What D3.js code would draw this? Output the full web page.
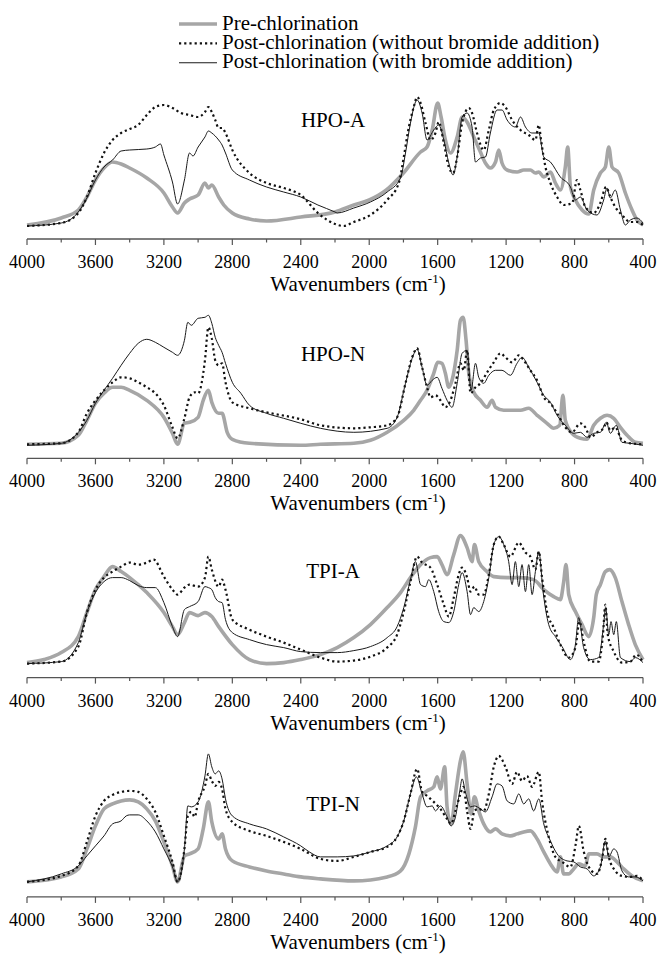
<!DOCTYPE html>
<html>
<head>
<meta charset="utf-8">
<script src="https://cdn.jsdelivr.net/npm/d3@7"></script>
<style>
  body { margin: 0; background: #fff; }
  svg { display: block; font-family: "Liberation Serif", "Times New Roman", serif; }
</style>
</head>
<body>
<div id="chart"></div>
<script>
// tick labels and series names
var tickValues = [4000, 3600, 3200, 2800, 2400, 2000, 1600, 1200, 800, 400];
var seriesNames = ["Pre-chlorination",
  "Post-chlorination (without bromide addition)",
  "Post-chlorination (with bromide addition)"];
var panelNames = ["HPO-A", "HPO-N", "TPI-A", "TPI-N"];

// absorbance (arbitrary units), [wavenumber, value]
var hpoA_pre = [[4000,1],[3800,8],[3700,16],[3650,29],[3600,46],[3550,58],[3500,64],[3450,62],[3400,58],[3300,48],[3200,33],[3150,19],[3120,13],[3080,23],[3050,27],[3000,31],[2960,43],[2940,38],[2920,41],[2880,29],[2850,21],[2800,13],[2700,7],[2600,5],[2400,9],[2200,14],[2090,21],[2000,26],[1900,36],[1800,53],[1700,74],[1662,79],[1632,96],[1600,123],[1580,109],[1555,86],[1525,73],[1486,89],[1457,109],[1428,104],[1389,89],[1350,74],[1321,63],[1292,58],[1262,64],[1243,76],[1224,63],[1194,56],[1136,54],[1097,56],[1058,56],[1029,53],[1009,54],[980,49],[941,54],[912,43],[883,36],[854,59],[840,79],[824,39],[795,26],[756,16],[717,12],[688,36],[649,53],[620,59],[600,79],[581,59],[542,53],[503,33],[464,16],[435,6],[400,1]];
var hpoA_noBr = [[4000,0],[3800,3],[3700,13],[3650,29],[3600,53],[3550,73],[3500,86],[3450,93],[3400,97],[3350,101],[3300,111],[3250,119],[3200,121],[3150,118],[3100,113],[3050,111],[3000,109],[2960,114],[2940,119],[2920,114],[2900,106],[2880,98],[2860,98],[2840,93],[2800,76],[2700,53],[2600,43],[2500,38],[2400,31],[2300,13],[2200,2],[2150,0],[2090,4],[1993,11],[1895,26],[1827,43],[1798,69],[1775,93],[1740,119],[1720,129],[1700,123],[1671,103],[1642,86],[1613,93],[1594,104],[1564,83],[1535,59],[1510,53],[1486,69],[1457,103],[1418,118],[1399,113],[1370,93],[1331,76],[1301,96],[1272,116],[1233,123],[1204,119],[1165,106],[1116,96],[1068,91],[1029,86],[1009,101],[996,86],[970,59],[941,43],[902,29],[863,21],[814,23],[786,46],[766,36],[737,19],[688,13],[649,23],[616,39],[591,29],[562,19],[523,11],[474,4],[435,4],[400,1]];
var hpoA_br = [[4000,0],[3800,3],[3700,14],[3650,28],[3600,46],[3550,59],[3500,66],[3450,75],[3400,76],[3300,77],[3250,79],[3220,82],[3200,71],[3150,44],[3120,22],[3080,46],[3050,73],[3030,70],[3000,79],[2960,89],[2940,95],[2920,93],[2880,86],[2860,81],[2840,73],[2800,56],[2700,46],[2600,39],[2500,34],[2400,29],[2300,21],[2200,14],[2187,13],[2090,18],[1993,24],[1895,34],[1817,48],[1788,73],[1759,103],[1720,126],[1691,113],[1662,86],[1623,96],[1594,101],[1564,86],[1535,63],[1510,51],[1486,69],[1457,109],[1428,113],[1399,99],[1379,64],[1350,68],[1321,69],[1292,93],[1253,116],[1224,116],[1194,106],[1146,99],[1116,109],[1087,99],[1048,93],[1009,93],[980,69],[941,64],[883,49],[824,39],[795,26],[766,29],[727,16],[669,11],[630,26],[610,38],[591,28],[562,36],[532,16],[503,1],[474,6],[435,8],[400,3]];

var hpoN_pre = [[4000,1],[3800,2],[3700,10],[3650,25],[3600,42],[3550,52],[3500,58],[3450,58],[3400,55],[3300,45],[3200,28],[3150,12],[3120,1],[3080,22],[3050,23],[3000,28],[2970,45],[2940,55],[2920,43],[2880,32],[2860,32],[2830,13],[2800,6],[2700,2],[2400,0],[2285,1],[2090,2],[1993,5],[1895,13],[1798,25],[1740,35],[1700,45],[1662,55],[1623,72],[1600,83],[1575,82],[1555,72],[1535,58],[1516,65],[1486,95],[1467,125],[1451,128],[1434,105],[1418,72],[1389,53],[1350,45],[1311,38],[1282,45],[1262,38],[1214,35],[1155,35],[1116,35],[1068,37],[1019,30],[961,22],[922,17],[887,20],[868,50],[854,25],[815,12],[766,7],[727,6],[688,20],[649,27],[610,30],[571,27],[532,18],[493,10],[445,3],[400,2]];
var hpoN_noBr = [[4000,1],[3800,2],[3700,13],[3650,32],[3600,45],[3550,55],[3500,63],[3450,68],[3400,67],[3350,63],[3300,58],[3250,52],[3200,40],[3150,18],[3120,7],[3080,27],[3050,48],[3020,53],[3000,52],[2960,85],[2940,118],[2920,107],[2900,85],[2880,80],[2860,82],[2840,63],[2800,43],[2700,37],[2600,33],[2400,26],[2285,20],[2090,17],[1993,18],[1895,20],[1837,28],[1788,62],[1749,88],[1720,97],[1691,78],[1662,58],[1642,48],[1613,50],[1584,45],[1555,38],[1525,45],[1496,62],[1467,82],[1447,75],[1428,95],[1408,52],[1379,58],[1350,62],[1311,73],[1272,83],[1233,92],[1204,88],[1165,83],[1126,90],[1097,85],[1058,75],[1019,65],[980,48],[941,42],[902,32],[854,18],[815,13],[766,22],[737,18],[707,8],[669,13],[630,17],[614,23],[591,15],[562,18],[523,5],[474,2],[400,1]];
var hpoN_br = [[4000,0],[3800,2],[3700,13],[3650,25],[3600,42],[3550,55],[3500,67],[3450,80],[3400,92],[3350,102],[3300,106],[3250,103],[3200,98],[3150,93],[3120,90],[3080,105],[3060,123],[3040,120],[3000,127],[2960,128],[2940,130],[2920,122],[2900,108],[2880,100],[2860,93],[2840,82],[2800,63],[2750,52],[2700,40],[2600,32],[2500,27],[2400,22],[2285,17],[2090,13],[1895,17],[1837,28],[1788,62],[1749,87],[1720,96],[1691,78],[1662,60],[1632,65],[1603,68],[1575,57],[1545,45],[1516,38],[1486,62],[1457,92],[1428,95],[1405,55],[1379,82],[1360,68],[1331,62],[1301,70],[1262,75],[1224,75],[1175,70],[1136,82],[1107,88],[1068,78],[1019,63],[980,50],[941,43],[902,30],[854,20],[805,12],[766,13],[727,8],[688,12],[649,13],[614,23],[591,12],[556,20],[523,3],[474,2],[400,0]];

var tpiA_pre = [[4000,2],[3900,5],[3800,12],[3700,28],[3650,52],[3600,75],[3550,88],[3500,98],[3450,93],[3400,87],[3300,72],[3200,52],[3150,38],[3120,30],[3080,42],[3050,52],[3000,49],[2960,52],[2920,48],[2880,38],[2800,20],[2700,5],[2600,1],[2500,2],[2400,5],[2285,10],[2187,17],[2090,27],[1993,40],[1895,57],[1817,72],[1759,87],[1700,100],[1642,107],[1603,108],[1575,100],[1545,90],[1506,110],[1467,129],[1428,117],[1399,103],[1385,120],[1360,103],[1311,93],[1272,88],[1194,87],[1116,87],[1039,85],[980,75],[922,68],[883,65],[864,82],[850,100],[834,70],[795,53],[756,40],[717,28],[688,47],[673,70],[649,80],[620,93],[595,95],[562,87],[523,63],[484,40],[445,20],[400,5]];
var tpiA_noBr = [[4000,1],[3800,3],[3700,18],[3650,52],[3600,75],[3550,87],[3500,93],[3450,98],[3400,102],[3350,100],[3300,102],[3260,105],[3200,88],[3150,75],[3120,70],[3080,77],[3050,80],[3000,78],[2960,87],[2940,108],[2920,95],[2880,78],[2860,85],[2840,75],[2800,45],[2700,35],[2600,28],[2500,22],[2400,15],[2285,7],[2187,3],[2090,4],[1993,8],[1895,17],[1837,30],[1798,53],[1759,83],[1720,108],[1691,102],[1642,97],[1603,80],[1564,60],[1535,48],[1506,67],[1477,90],[1457,97],[1428,87],[1408,73],[1385,78],[1360,70],[1331,70],[1301,90],[1272,120],[1243,128],[1214,120],[1175,108],[1126,122],[1087,112],[1058,108],[1029,95],[1009,113],[990,87],[961,53],[922,37],[883,20],[834,7],[795,17],[771,43],[747,23],[708,3],[659,3],[634,30],[620,60],[606,30],[571,13],[523,2],[474,3],[439,10],[400,2]];
var tpiA_br = [[4000,1],[3800,3],[3700,22],[3650,52],[3600,72],[3550,83],[3500,87],[3450,87],[3400,84],[3350,79],[3300,77],[3250,77],[3200,62],[3150,38],[3120,28],[3080,55],[3050,58],[3000,63],[2960,78],[2940,77],[2920,75],[2900,67],[2880,63],[2860,62],[2840,45],[2800,32],[2700,25],[2600,20],[2500,17],[2400,13],[2285,12],[2187,12],[2090,14],[1993,18],[1895,27],[1837,38],[1798,57],[1759,85],[1730,103],[1700,80],[1671,78],[1652,85],[1623,73],[1594,53],[1564,43],[1535,42],[1506,53],[1477,80],[1457,92],[1428,73],[1408,50],[1389,57],[1360,53],[1331,63],[1301,87],[1272,120],[1243,128],[1214,120],[1185,103],[1165,80],[1146,103],[1126,78],[1107,100],[1087,73],[1068,100],[1048,70],[1029,93],[1009,113],[984,73],[951,40],[912,28],[873,18],[824,5],[795,20],[776,47],[747,17],[708,5],[659,7],[630,40],[618,57],[600,30],[587,43],[571,30],[556,43],[532,7],[474,3],[445,7],[400,2]];

var tpiN_pre = [[4000,2],[3800,7],[3700,15],[3650,35],[3600,58],[3550,75],[3500,80],[3450,83],[3400,84],[3350,82],[3300,75],[3250,63],[3200,42],[3150,18],[3120,2],[3080,28],[3050,30],[3000,35],[2970,55],[2940,82],[2920,62],[2880,45],[2860,50],[2840,35],[2800,23],[2700,17],[2600,13],[2500,10],[2400,7],[2285,5],[2090,3],[1895,7],[1817,13],[1768,30],[1730,57],[1700,87],[1662,93],[1623,97],[1603,107],[1584,95],[1559,117],[1545,77],[1522,60],[1496,90],[1467,123],[1451,132],[1428,100],[1405,70],[1385,87],[1360,73],[1331,60],[1292,52],[1262,55],[1224,50],[1175,48],[1136,50],[1097,52],[1058,53],[1019,45],[980,32],[941,20],[902,12],[883,27],[864,10],[834,10],[805,15],[776,20],[737,18],[717,30],[669,30],[630,27],[591,27],[552,22],[513,15],[464,8],[400,3]];
var tpiN_noBr = [[4000,2],[3800,8],[3700,18],[3650,42],[3600,68],[3550,83],[3500,89],[3450,92],[3400,93],[3350,92],[3300,85],[3250,72],[3200,48],[3150,22],[3120,2],[3080,35],[3060,68],[3040,72],[3020,67],[3000,82],[2960,98],[2940,110],[2920,103],[2900,98],[2880,102],[2860,95],[2840,75],[2800,62],[2700,53],[2600,48],[2500,42],[2400,35],[2285,25],[2187,23],[2090,27],[1993,32],[1895,37],[1837,47],[1798,63],[1759,90],[1720,115],[1691,92],[1662,88],[1623,82],[1584,75],[1545,65],[1522,60],[1496,73],[1467,90],[1451,97],[1428,73],[1408,55],[1385,73],[1360,75],[1331,73],[1301,90],[1272,117],[1243,128],[1204,117],[1165,100],[1136,112],[1107,103],[1078,108],[1048,97],[1009,112],[990,83],[951,47],[912,27],[873,22],[824,17],[793,40],[775,58],[747,33],[717,17],[669,10],[634,30],[620,45],[600,27],[562,13],[523,8],[474,7],[435,8],[400,3]];
var tpiN_br = [[4000,2],[3800,10],[3700,18],[3650,28],[3600,38],[3550,48],[3500,60],[3450,63],[3420,68],[3400,69],[3350,69],[3300,63],[3250,52],[3200,35],[3150,17],[3120,2],[3080,35],[3060,78],[3040,77],[3000,82],[2960,108],[2940,130],[2920,117],[2900,110],[2880,113],[2860,105],[2840,85],[2800,68],[2700,60],[2600,55],[2500,47],[2400,38],[2350,32],[2285,27],[2187,27],[2090,28],[1993,32],[1895,38],[1837,47],[1798,63],[1759,90],[1724,107],[1691,90],[1662,77],[1632,78],[1613,73],[1584,78],[1545,67],[1522,58],[1496,67],[1471,93],[1457,105],[1438,92],[1408,77],[1385,78],[1350,75],[1321,72],[1282,87],[1253,100],[1224,98],[1194,83],[1155,80],[1126,90],[1097,80],[1068,85],[1039,73],[1009,85],[980,60],[941,43],[902,30],[844,23],[805,22],[766,17],[727,15],[688,8],[649,17],[620,43],[600,27],[571,35],[552,32],[523,13],[484,7],[445,7],[400,3]];

var panelSeries = [
  [hpoA_pre, hpoA_noBr, hpoA_br],
  [hpoN_pre, hpoN_noBr, hpoN_br],
  [tpiA_pre, tpiA_noBr, tpiA_br],
  [tpiN_pre, tpiN_noBr, tpiN_br]
];

var W = 661, H = 956;
var svg = d3.select("#chart").append("svg").attr("width", W).attr("height", H);

var styles = [
  {stroke: "#a6a6a6", width: 3.6, dash: null},
  {stroke: "#111", width: 2.2, dash: "2.2,3"},
  {stroke: "#1a1a1a", width: 1, dash: null}
];

// legend
var legend = svg.append("g");
seriesNames.forEach(function (name, i) {
  var ly = 24 + i * 19.4;
  legend.append("line")
    .attr("x1", 179).attr("x2", 217).attr("y1", ly).attr("y2", ly)
    .attr("stroke", styles[i].stroke)
    .attr("stroke-width", i == 0 ? 3.6 : (i == 1 ? 2.2 : 1.1))
    .attr("stroke-dasharray", styles[i].dash);
  legend.append("text")
    .attr("x", 222).attr("y", ly + 5.5)
    .style("font-size", "21px")
    .text(name);
});

var x = d3.scaleLinear().domain([4000, 400]).range([27, 643]);

// label baseline offsets above each axis line
var labelOffset = [112, 97, 100, 86];

panelSeries.forEach(function (series, p) {
  var axisY = 239 + p * 219.3;
  var y = d3.scaleLinear().domain([0, 140]).range([axisY - 13, axisY - 153]);
  var g = svg.append("g");

  var line = d3.line()
    .x(function (d) { return x(d[0]); })
    .y(function (d) { return y(d[1]); })
    .curve(d3.curveMonotoneX);

  series.forEach(function (s, i) {
    g.append("path")
      .datum(s)
      .attr("d", line)
      .attr("fill", "none")
      .attr("stroke", styles[i].stroke)
      .attr("stroke-width", styles[i].width)
      .attr("stroke-dasharray", styles[i].dash)
      .attr("stroke-linejoin", "round");
  });

  // x axis: labelled ticks every 400, minor every 200
  var axis = g.append("g").attr("transform", "translate(0," + axisY + ")");
  axis.append("line")
    .attr("x1", x(4000)).attr("x2", x(400))
    .attr("stroke", "#555").attr("stroke-width", 1.3);
  axis.selectAll(".tk")
    .data(d3.range(4000, 399, -200))
    .enter().append("line")
    .attr("x1", function (d) { return x(d); })
    .attr("x2", function (d) { return x(d); })
    .attr("y1", 0)
    .attr("y2", function (d) { return d % 400 == 0 ? 6 : 3.5; })
    .attr("stroke", "#555").attr("stroke-width", 1.2);
  axis.selectAll(".lb")
    .data(tickValues)
    .enter().append("text")
    .attr("x", function (d) { return x(d); })
    .attr("y", 29)
    .attr("text-anchor", "middle")
    .style("font-size", "18px")
    .text(function (d) { return d; });

  var title = axis.append("text")
    .attr("x", 358).attr("y", 52)
    .attr("text-anchor", "middle")
    .style("font-size", "21px");
  title.append("tspan").text("Wavenumbers (cm");
  title.append("tspan").attr("dy", -8).style("font-size", "13px").text("-1");
  title.append("tspan").attr("dy", 8).text(")");

  g.append("text")
    .attr("x", 333).attr("y", axisY - labelOffset[p])
    .attr("text-anchor", "middle")
    .style("font-size", "21px")
    .text(panelNames[p]);
});
</script>
</body>
</html>
